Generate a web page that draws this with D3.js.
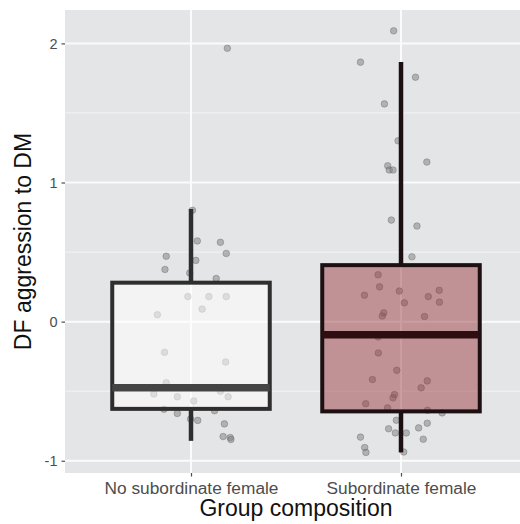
<!DOCTYPE html>
<html>
<head>
<meta charset="utf-8">
<script src="https://cdn.jsdelivr.net/npm/d3@7"></script>
<style>
  body { margin: 0; background: #fff; overflow: hidden; }
  svg { display: block; font-family: "Liberation Sans", Arial, sans-serif; }
</style>
</head>
<body>
<svg width="520" height="524"></svg>
<script>
// categories and box stats
let groups = ['No subordinate female', 'Subordinate female']
let q1 = [-0.627, -0.645]
let median = [-0.476, -0.095]
let q3 = [0.28, 0.406]
let whiskerLow = [-0.857, -0.94]
let whiskerHigh = [0.81, 1.867]
let yTicks = [-1, 0, 1, 2]
let yMinor = [-0.5, 0.5, 1.5]

// jittered points: value and horizontal offset (in category units)
let noSubValues = [1.965, 0.80, 0.58, 0.57, 0.49, 0.47, 0.44, 0.375, 0.35, 0.31, 0.18, 0.18, 0.18, 0.09, 0.05,
  -0.22, -0.29, -0.44, -0.52, -0.54, -0.57, -0.50, -0.54, -0.63, -0.66, -0.70, -0.71, -0.64, -0.735, -0.826, -0.833, -0.847]
let noSubJitter = [0.173, 0.007, 0.03, 0.14, 0.168, -0.118, 0.023, -0.124, -0.006, 0.12, -0.015, 0.085, 0.168, 0.053, -0.16,
  -0.126, 0.165, -0.118, -0.177, -0.065, 0.013, 0.14, 0.177, -0.129, -0.065, -0.002, 0.032, 0.112, 0.159, 0.153, 0.187, 0.19]
let subValues = [2.09, 1.865, 1.757, 1.565, 1.30, 1.147, 1.12, 1.09, 1.09, 0.73, 0.687, 0.466, 0.337, 0.25, 0.19, 0.22,
  0.135, 0.18, 0.225, 0.14, 0.063, 0.04, 0.037, -0.11, -0.225, -0.35, -0.416, -0.426, -0.476, -0.524, -0.548, -0.59, -0.62,
  -0.637, -0.656, -0.709, -0.77, -0.80, -0.80, -0.764, -0.73, -0.845, -0.83, -0.905, -0.94, -0.937]
let subJitter = [-0.035, -0.193, 0.069, -0.079, -0.014, 0.123, -0.063, -0.056, -0.038, -0.046, 0.076, 0.052, -0.109, -0.102, -0.174, -0.008,
  0.016, 0.13, 0.182, 0.183, -0.082, -0.089, 0.112, -0.109, -0.108, -0.02, -0.136, 0.125, 0.096, -0.031, -0.038, -0.168, -0.064,
  0.126, 0.196, -0.022, -0.059, -0.027, 0.025, 0.084, 0.125, 0.106, -0.193, -0.173, -0.167, 0.013]

let boxFill = ['rgba(255,255,255,0.55)', 'rgba(150,50,58,0.47)']
let boxStroke = ['#2e2e2e', '#1c1012']
let medianStroke = ['#444444', '#2e0e11']

let svg = d3.select('svg')
let panel = { left: 65, right: 527, top: 10, bottom: 473 }

let x = d3.scalePoint().domain(groups).range([panel.left, panel.right]).padding(0.6)
let y = d3.scaleLinear().domain([-1.088, 2.24]).range([panel.bottom, panel.top])
let step = x.step()

svg.append('clipPath').attr('id', 'clip')
  .append('rect').attr('x', panel.left).attr('y', panel.top)
  .attr('width', panel.right - panel.left).attr('height', panel.bottom - panel.top)

let plot = svg.append('g').attr('clip-path', 'url(#clip)')

// panel background
plot.append('rect')
  .attr('x', panel.left).attr('y', panel.top)
  .attr('width', panel.right - panel.left).attr('height', panel.bottom - panel.top)
  .attr('fill', '#e4e5e7')

// gridlines
plot.selectAll('.minor').data(yMinor).enter().append('line')
  .attr('x1', panel.left).attr('x2', panel.right)
  .attr('y1', d => y(d)).attr('y2', d => y(d))
  .attr('stroke', '#f4f4f5').attr('stroke-width', 1)
plot.selectAll('.major').data(yTicks).enter().append('line')
  .attr('x1', panel.left).attr('x2', panel.right)
  .attr('y1', d => y(d)).attr('y2', d => y(d))
  .attr('stroke', '#fbfbfb').attr('stroke-width', 2)
plot.selectAll('.vmajor').data(groups).enter().append('line')
  .attr('x1', d => x(d)).attr('x2', d => x(d))
  .attr('y1', panel.top).attr('y2', panel.bottom)
  .attr('stroke', '#fbfbfb').attr('stroke-width', 2)

// jittered points (drawn under the boxes)
let points = []
for (let i = 0; i < noSubValues.length; i++) points.push({ g: groups[0], v: noSubValues[i], j: noSubJitter[i] })
for (let i = 0; i < subValues.length; i++) points.push({ g: groups[1], v: subValues[i], j: subJitter[i] })

plot.selectAll('circle').data(points).enter().append('circle')
  .attr('cx', d => x(d.g) + d.j * step)
  .attr('cy', d => y(d.v))
  .attr('r', 3.3)
  .attr('fill', '#7d7d7d')
  .attr('fill-opacity', 0.5)
  .attr('stroke', '#5a5a5a')
  .attr('stroke-opacity', 0.45)
  .attr('stroke-width', 0.8)

// boxes
let boxW = step * 0.75
groups.forEach((g, i) => {
  let cx = x(g)
  plot.append('line')
    .attr('x1', cx).attr('x2', cx)
    .attr('y1', y(q3[i])).attr('y2', y(whiskerHigh[i]))
    .attr('stroke', boxStroke[i]).attr('stroke-width', 4.5)
  plot.append('line')
    .attr('x1', cx).attr('x2', cx)
    .attr('y1', y(q1[i])).attr('y2', y(whiskerLow[i]))
    .attr('stroke', boxStroke[i]).attr('stroke-width', 4.5)
  plot.append('rect')
    .attr('x', cx - boxW / 2).attr('width', boxW)
    .attr('y', y(q3[i])).attr('height', y(q1[i]) - y(q3[i]))
    .attr('fill', boxFill[i])
    .attr('stroke', boxStroke[i]).attr('stroke-width', 4)
  plot.append('line')
    .attr('x1', cx - boxW / 2).attr('x2', cx + boxW / 2)
    .attr('y1', y(median[i])).attr('y2', y(median[i]))
    .attr('stroke', medianStroke[i]).attr('stroke-width', 7.5)
})

// y axis
let yAxis = svg.append('g')
  .attr('transform', `translate(${panel.left},0)`)
  .call(d3.axisLeft(y).tickValues(yTicks).tickSize(3.5).tickPadding(4).tickFormat(d => String(d)))
yAxis.select('.domain').remove()
yAxis.selectAll('line').attr('stroke', '#4d4d4d').attr('stroke-width', 1.2)
yAxis.selectAll('text').attr('fill', '#4d4d4d').style('font-size', '14.5px')
  .attr('font-family', '"Liberation Sans", Arial, sans-serif')

// x axis
let xAxis = svg.append('g')
  .attr('transform', `translate(0,${panel.bottom})`)
  .call(d3.axisBottom(x).tickSize(3.5).tickPadding(5))
xAxis.select('.domain').remove()
xAxis.selectAll('line').attr('stroke', '#4d4d4d').attr('stroke-width', 1.2)
xAxis.selectAll('text').attr('fill', '#4d4d4d').style('font-size', '17.3px')
  .attr('font-family', '"Liberation Sans", Arial, sans-serif')

// axis titles
svg.append('text')
  .attr('x', (panel.left + panel.right) / 2)
  .attr('y', 516)
  .attr('text-anchor', 'middle')
  .style('font-size', '23px')
  .attr('fill', '#111')
  .text('Group composition')

svg.append('text')
  .attr('transform', `translate(31,${(panel.top + panel.bottom) / 2}) rotate(-90)`)
  .attr('text-anchor', 'middle')
  .style('font-size', '23px')
  .attr('fill', '#111')
  .text('DF aggression to DM')
</script>
</body>
</html>
